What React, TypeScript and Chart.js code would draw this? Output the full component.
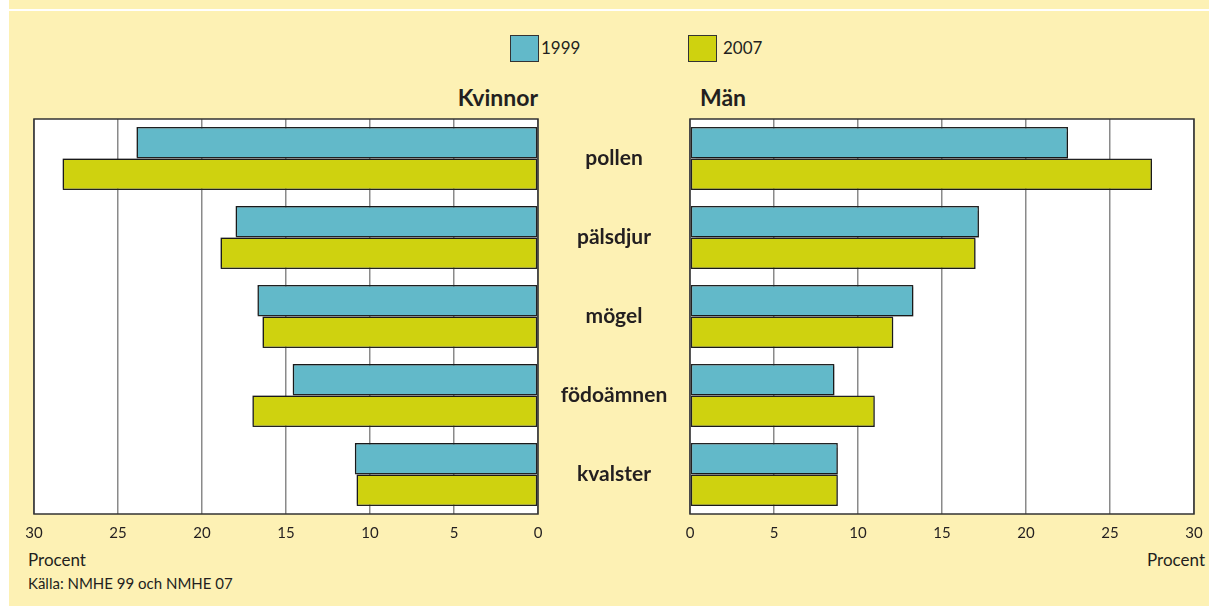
import React, { useEffect, useRef } from 'react';
import { Chart, registerables } from 'chart.js';

Chart.register(...registerables);

const categories = ['pollen', 'pälsdjur', 'mögel', 'födoämnen', 'kvalster'];
const seriesLabels = ['1999', '2007'];
const women1999 = [23.9, 18.0, 16.7, 14.6, 10.9];
const women2007 = [28.3, 18.9, 16.4, 17.0, 10.8];
const men1999 = [22.5, 17.2, 13.3, 8.6, 8.8];
const men2007 = [27.5, 17.0, 12.1, 11.0, 8.8];
const axisMin = 0;
const axisMax = 30;
const axisStep = 5;

const COLORS = ['#62b9c9', '#cfd20f'];
const TEXT = '#231f20';
const FONT = 'Lato, "Open Sans", sans-serif';
const CAT_FONT_SIZE = 21;

function makeBoxPlugin(dx: number, dy: number) {
  return {
    id: 'plotBox',
    beforeDraw(chart: any) {
      const { ctx, chartArea } = chart;
      ctx.save();
      ctx.fillStyle = '#ffffff';
      ctx.fillRect(chartArea.left, chartArea.top, chartArea.right - chartArea.left, chartArea.bottom - chartArea.top);
      ctx.restore();
    },
    beforeDatasetsDraw(chart: any) {
      const ctx = chart.ctx;
      ctx.save();
      ctx.shadowColor = 'rgba(0,0,0,0.28)';
      ctx.shadowOffsetX = dx;
      ctx.shadowOffsetY = dy;
      ctx.shadowBlur = 1;
    },
    afterDatasetsDraw(chart: any) {
      chart.ctx.restore();
    },
    afterDraw(chart: any) {
      const { ctx, chartArea } = chart;
      ctx.save();
      ctx.strokeStyle = '#333333';
      ctx.lineWidth = 1.5;
      ctx.strokeRect(chartArea.left, chartArea.top, chartArea.right - chartArea.left, chartArea.bottom - chartArea.top);
      ctx.restore();
    },
  };
}

function makeDatasets(a: number[], b: number[]) {
  return [a, b].map((d, i) => ({
    label: seriesLabels[i],
    data: d,
    backgroundColor: COLORS[i],
    borderColor: '#222222',
    borderWidth: 1.5,
    borderSkipped: false,
    categoryPercentage: 0.8,
    barPercentage: 1.0,
  }));
}

function zeroPad(scale: any) {
  scale.paddingLeft = 0;
  scale.paddingRight = 0;
  scale.paddingTop = 0;
  scale.paddingBottom = 0;
}

function xAxis(reverse: boolean) {
  return {
    type: 'linear',
    reverse,
    min: axisMin,
    max: axisMax,
    ticks: {
      stepSize: axisStep,
      color: TEXT,
      padding: 10,
      font: { family: FONT, size: 15 },
    },
    grid: { color: '#8a8a8a', lineWidth: 1.5, drawTicks: false },
    border: { display: false },
    afterFit(scale: any) {
      scale.height = 30;
      zeroPad(scale);
    },
  };
}

export default function App() {
  const leftRef = useRef<HTMLCanvasElement>(null);
  const rightRef = useRef<HTMLCanvasElement>(null);

  useEffect(() => {
    const catFont = `bold ${CAT_FONT_SIZE}px ${FONT}`;
    const m = document.createElement('canvas').getContext('2d')!;
    m.font = catFont;
    let widest = 0;
    categories.forEach((c) => {
      widest = Math.max(widest, m.measureText(c).width);
    });
    const yAxisWidth = 152;
    const labelPad = Math.max(0, 76 - widest / 2);

    const left = new Chart(leftRef.current!, {
      type: 'bar',
      data: { labels: categories, datasets: makeDatasets(women1999, women2007) as any },
      options: {
        indexAxis: 'y',
        responsive: false,
        animation: false,
        devicePixelRatio: 1,
        layout: { padding: { left: 34, right: 8, top: 5, bottom: 0 } },
        plugins: { legend: { display: false }, tooltip: { enabled: false } },
        scales: {
          x: xAxis(true) as any,
          y: { type: 'category', display: false, offset: true },
        },
      },
      plugins: [makeBoxPlugin(-1.5, -1.5)],
    });

    const right = new Chart(rightRef.current!, {
      type: 'bar',
      data: { labels: categories, datasets: makeDatasets(men1999, men2007) as any },
      options: {
        indexAxis: 'y',
        responsive: false,
        animation: false,
        devicePixelRatio: 1,
        layout: { padding: { left: 0, right: 15, top: 5, bottom: 0 } },
        plugins: { legend: { display: false }, tooltip: { enabled: false } },
        scales: {
          x: xAxis(false) as any,
          y: {
            type: 'category',
            position: 'left',
            offset: true,
            grid: { display: false, drawTicks: false },
            border: { display: false },
            ticks: {
              crossAlign: 'center',
              padding: labelPad,
              color: TEXT,
              font: { family: FONT, size: CAT_FONT_SIZE, weight: 'bold' },
            },
            afterFit(scale: any) {
              scale.width = yAxisWidth;
              zeroPad(scale);
            },
          } as any,
        },
      },
      plugins: [makeBoxPlugin(1.5, 1.5)],
    });

    return () => {
      left.destroy();
      right.destroy();
    };
  }, []);

  const txt = (extra: React.CSSProperties): React.CSSProperties => ({
    position: 'absolute',
    fontFamily: FONT,
    color: TEXT,
    whiteSpace: 'nowrap',
    ...extra,
  });

  return (
    <div style={{ position: 'absolute', left: 0, top: 0, width: 1209, height: 607, background: '#ffffff', overflow: 'hidden' }}>
      <div style={{ position: 'absolute', left: 9, top: 0, width: 1200, height: 9, background: '#fdf1b4' }} />
      <div style={{ position: 'absolute', left: 9, top: 11, width: 1200, height: 595, background: '#fdf1b4' }} />

      {/* legend */}
      <div style={{ position: 'absolute', left: 510, top: 35, width: 27, height: 25, background: COLORS[0], border: '1px solid #333' }} />
      <div style={txt({ left: 541, top: 37, fontSize: 17, lineHeight: '22px' })}>{seriesLabels[0]}</div>
      <div style={{ position: 'absolute', left: 688, top: 35, width: 27, height: 25, background: COLORS[1], border: '1px solid #333' }} />
      <div style={txt({ left: 723, top: 37, fontSize: 17, lineHeight: '22px' })}>{seriesLabels[1]}</div>

      {/* panel titles */}
      <div style={txt({ right: 1209 - 538, top: 83, fontSize: 23, fontWeight: 'bold', lineHeight: '28px' })}>Kvinnor</div>
      <div style={txt({ left: 700, top: 83, fontSize: 23, fontWeight: 'bold', lineHeight: '28px' })}>Män</div>

      <canvas ref={leftRef} width={546} height={430} style={{ position: 'absolute', left: 0, top: 114, width: 546, height: 430 }} />
      <canvas ref={rightRef} width={671} height={430} style={{ position: 'absolute', left: 538, top: 114, width: 671, height: 430 }} />

      <div style={txt({ left: 28, top: 549, fontSize: 17, lineHeight: '22px' })}>Procent</div>
      <div style={txt({ right: 4, top: 549, fontSize: 17, lineHeight: '22px' })}>Procent</div>
      <div style={txt({ left: 28, top: 573, fontSize: 15, lineHeight: '20px' })}>Källa: NMHE 99 och NMHE 07</div>
    </div>
  );
}
